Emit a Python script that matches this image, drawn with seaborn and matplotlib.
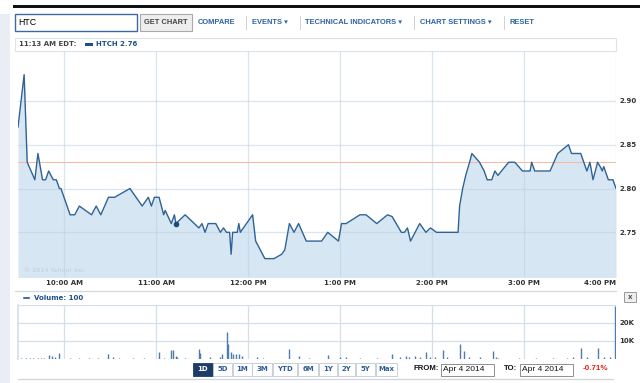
import numpy as np
import pandas as pd
import matplotlib
matplotlib.use("Agg")
import matplotlib.pyplot as plt
import seaborn as sns
from matplotlib.patches import Rectangle

# ---------------- data ----------------
# minutes after 9:30 AM
minutes = [0, 4, 6, 11, 13, 16, 18, 20, 23, 25, 27, 28, 34, 37, 40, 48, 51, 54, 59, 63,
           73, 81, 85, 87, 89, 92, 95, 96, 100, 102, 103, 109, 118, 120, 122, 124, 129,
           132, 134, 136, 138, 139, 140, 143, 144, 145, 153, 155, 158, 161, 167, 172, 174,
           177, 180, 183, 188, 194, 198, 202, 209, 211, 214, 223, 227, 234, 241, 244, 250,
           252, 254, 256, 262, 266, 269, 273, 287, 288, 290, 292, 295, 296, 301, 304, 306,
           309, 311, 313, 320, 324, 329, 334, 335, 337, 347, 352, 359, 361, 367, 369, 371,
           373, 375, 378, 380, 381, 382, 385, 388, 390]
prices = [2.87, 2.93, 2.83, 2.81, 2.84, 2.81, 2.81, 2.82, 2.81, 2.81, 2.80, 2.80,
          2.77, 2.77, 2.78, 2.77, 2.78, 2.77, 2.79, 2.79, 2.80, 2.78, 2.79, 2.78, 2.79,
          2.79, 2.77, 2.775, 2.76, 2.77, 2.76, 2.77, 2.755, 2.76, 2.75, 2.76, 2.76, 2.75,
          2.755, 2.75, 2.75, 2.725, 2.75, 2.75, 2.76, 2.75, 2.77, 2.74, 2.73, 2.72, 2.72,
          2.725, 2.73, 2.76, 2.75, 2.76, 2.74, 2.74, 2.74, 2.75, 2.74, 2.76, 2.76, 2.77,
          2.77, 2.76, 2.77, 2.768, 2.75, 2.75, 2.755, 2.74, 2.76, 2.75, 2.755, 2.75, 2.75,
          2.78, 2.80, 2.815, 2.833, 2.84, 2.83, 2.82, 2.81, 2.81, 2.82, 2.815, 2.83, 2.83,
          2.82, 2.82, 2.83, 2.82, 2.82, 2.84, 2.85, 2.84, 2.84, 2.83, 2.82, 2.83, 2.81,
          2.83, 2.824, 2.82, 2.825, 2.81, 2.81, 2.80]

vol_minutes = [2, 5, 8, 10, 13, 15, 17, 20, 22, 24, 27, 34, 40, 46, 52, 59, 62, 66, 75, 82,
               92, 95, 100, 101, 103, 104, 109, 118, 119, 125, 132, 133, 136, 137, 139, 140,
               142, 144, 146, 156, 160, 177, 183, 190, 202, 210, 214, 223, 234, 244, 249,
               253, 255, 259, 262, 266, 269, 272, 277, 280, 288, 291, 294, 301, 310, 312,
               313, 327, 338, 349, 358, 362, 367, 371, 378, 382, 386, 389.6]
vol_values = [400, 300, 400, 300, 500, 400, 300, 1900, 1300, 800, 3400, 400, 300, 500, 400,
              2500, 1000, 400, 300, 400, 3600, 600, 5000, 5000, 1400, 1000, 500, 5400, 3200,
              900, 900, 2400, 15000, 7900, 3700, 2700, 2700, 2400, 1600, 800, 500, 5600,
              1500, 300, 2200, 800, 800, 500, 400, 2800, 1000, 1500, 1100, 1500, 1100, 3600,
              1000, 700, 4700, 700, 8000, 4100, 1100, 700, 4100, 700, 400, 400, 400, 400,
              400, 1000, 6200, 700, 6200, 700, 700, 29000]

hour_ticks = [30, 90, 150, 210, 270, 330, 390]
hour_labels = ["10:00 AM", "11:00 AM", "12:00 PM", "1:00 PM", "2:00 PM", "3:00 PM", "4:00 PM"]
price_ticks = [2.75, 2.80, 2.85, 2.90]
vol_ticks = [10000, 20000]
vol_tick_labels = ["10K", "20K"]
prev_close = 2.83
marker_minute = 103
marker_price = 2.76
nav_items = ["COMPARE", "EVENTS \u25BE", "TECHNICAL INDICATORS \u25BE", "CHART SETTINGS \u25BE", "RESET"]
range_buttons = ["1D", "5D", "1M", "3M", "YTD", "6M", "1Y", "2Y", "5Y", "Max"]

# ---------------- styling ----------------
W, H = 640, 383
sns.set_theme(style="white")
plt.rcParams["font.family"] = ["DejaVu Sans"]
NAVFONT = ["Liberation Sans", "DejaVu Sans"]

LINE = "#2f6396"
FILL = "#d6e6f2"
GRID = "#d5dfe8"
NAVY = "#1f4f8a"
LINK = "#2d63a0"

fig = plt.figure(figsize=(W / 100, H / 100), dpi=100)

bg = fig.add_axes([0, 0, 1, 1])
bg.set_xlim(0, W)
bg.set_ylim(H, 0)
bg.axis("off")


def axes_px(l, t, r, b):
    return fig.add_axes([l / W, 1 - b / H, (r - l) / W, (b - t) / H])


def rect(x0, y0, x1, y1, fc="none", ec="none", lw=0.8, z=1):
    bg.add_patch(Rectangle((x0, y0), x1 - x0, y1 - y0, facecolor=fc, edgecolor=ec, lw=lw, zorder=z))


# page chrome
rect(0, 14, 10, H, fc="#e8eef4")
rect(13, 5, W, 8, fc="#111111")

# search box + button
rect(15, 13.5, 137, 31, fc="white", ec="#3f68a6", lw=1.0)
bg.text(18, 22.5, "HTC", fontsize=6.3, color="black", va="center", ha="left",
        family=NAVFONT)
rect(139.5, 13.5, 192, 31, fc="#eeeeee", ec="#aaaaaa", lw=0.8)
bg.text(166, 22.5, "GET CHART", fontsize=5.4, color="#444444", va="center", ha="center",
        fontweight="bold", family=NAVFONT)
nav_x = [198, 252, 305, 420, 509]
sep_x = [246, 300, 414, 504]
for x, t in zip(nav_x, nav_items):
    bg.text(x, 22.5, t, fontsize=5.4, color=LINK, va="center", ha="left",
            fontweight="bold", family=NAVFONT)
for x in sep_x:
    bg.plot([x, x], [16, 29], color="#d0d0d0", lw=0.7)

# header row
rect(15, 37.5, 616, 51, fc="white", ec="#dde3ea", lw=0.8)
bg.text(19, 44.5, "11:13 AM EDT:", fontsize=5, color="#444444", va="center",
        fontweight="bold")
rect(85, 42.5, 93, 46, fc=NAVY)
bg.text(96, 44.5, "HTCH 2.76", fontsize=5, color=NAVY, va="center", fontweight="bold")

# ---------------- main price chart ----------------
ax = axes_px(18, 51, 616, 277)
df = pd.DataFrame({"minute": minutes, "price": prices})
ax.fill_between(df["minute"], df["price"], 2.6, color=FILL, lw=0, zorder=1)
sns.lineplot(data=df, x="minute", y="price", ax=ax, color=LINE, lw=1.0, zorder=3)
ax.axhline(prev_close, color="#f8b79c", lw=0.7, zorder=2)
ax.scatter([marker_minute], [marker_price], s=9, color="#1d4a7c", zorder=4)
ax.set_xlim(0, 390)
ax.set_ylim(2.699, 2.957)
ax.set_axisbelow("line")
ax.set_xticks(hour_ticks)
ax.set_xticklabels(hour_labels)
ax.set_yticks(price_ticks)
ax.set_yticklabels([f"{v:.2f}" for v in price_ticks])
ax.yaxis.tick_right()
ax.grid(True, color="#bfd0df", alpha=0.55, lw=0.9)
ax.tick_params(length=0, labelsize=5, labelcolor="#333333", pad=2.5)
for lab in ax.get_xticklabels() + ax.get_yticklabels():
    lab.set_fontweight("bold")
ax.get_xticklabels()[-1].set_ha("right")
ax.set_xlabel("")
ax.set_ylabel("")
for s in ax.spines.values():
    s.set_visible(False)
ax.patch.set_alpha(0)
ax.text(4, 2.703, "\u00a9 2014 Yahoo! Inc.", fontsize=4.6, color="#c4ccd4", va="bottom")

# separator
bg.plot([15, 616], [290.5, 290.5], color="#d3d8de", lw=0.9)

# ---------------- volume ----------------
bg.add_patch(Rectangle((22, 295.5), 8, 3.5, facecolor=NAVY, zorder=2))
bg.text(34, 297.5, "Volume: 100", fontsize=5, color=NAVY, va="center", fontweight="bold")
rect(624, 292, 636, 302, fc="#eeeeee", ec="#9a9a9a", lw=0.7)
bg.text(630, 297, "x", fontsize=5, color="#555555", va="center", ha="center", fontweight="bold")

axv = axes_px(18, 305, 616, 358.7)
axv.vlines(vol_minutes, 0, vol_values, color="#4f7cae", lw=1.0)
axv.set_xlim(0, 390)
axv.set_ylim(0, 29800)
axv.set_xticks(hour_ticks)
axv.set_xticklabels([])
axv.set_yticks(vol_ticks + [29800])
axv.set_yticklabels(vol_tick_labels + [""])
axv.yaxis.tick_right()
axv.set_axisbelow(True)
axv.grid(True, color=GRID, lw=0.9)
axv.tick_params(length=0, labelsize=5, labelcolor="#333333", pad=2.5)
for lab in axv.get_yticklabels():
    lab.set_fontweight("bold")
for s in axv.spines.values():
    s.set_visible(False)
axv.spines["left"].set_visible(True)
axv.spines["left"].set_color(GRID)
axv.patch.set_alpha(0)

# ---------------- range buttons ----------------
btn_edges = [193, 213, 232.5, 252, 272.5, 297.5, 318.5, 337.5, 355.5, 375.5, 397.5]
for i, t in enumerate(range_buttons):
    x0, x1 = btn_edges[i], btn_edges[i + 1]
    if i == 0:
        rect(x0, 362.5, x1 - 0.5, 375.5, fc="#1d3d68", ec="#1d3d68", lw=0.6)
        col = "white"
    else:
        rect(x0, 362.5, x1 - 0.5, 375.5, fc="white", ec="#bfc9d4", lw=0.6)
        col = "#2d5f96"
    bg.text((x0 + x1) / 2, 369, t, fontsize=5, color=col, va="center", ha="center",
            fontweight="bold")

bg.text(413, 369, "FROM:", fontsize=5.6, color="#111111", va="center", ha="left",
        fontweight="bold", family=NAVFONT)
rect(440.5, 363.5, 494, 375.5, fc="white", ec="#8f8f8f", lw=0.7)
bg.text(443, 369.5, "Apr 4 2014", fontsize=6, color="#111111", va="center", ha="left",
        family=NAVFONT)
bg.text(504, 369, "TO:", fontsize=5.6, color="#111111", va="center", ha="left",
        fontweight="bold", family=NAVFONT)
rect(519.5, 363.5, 573, 375.5, fc="white", ec="#8f8f8f", lw=0.7)
bg.text(522, 369.5, "Apr 4 2014", fontsize=6, color="#111111", va="center", ha="left",
        family=NAVFONT)
bg.text(583, 369, "-0.71%", fontsize=5.8, color="#e0231c", va="center", ha="left",
        fontweight="bold", family=NAVFONT)

bg.plot([18, 613], [378.5, 378.5], color="#d0d5db", lw=0.9)

fig.savefig("out.png", dpi=100)
